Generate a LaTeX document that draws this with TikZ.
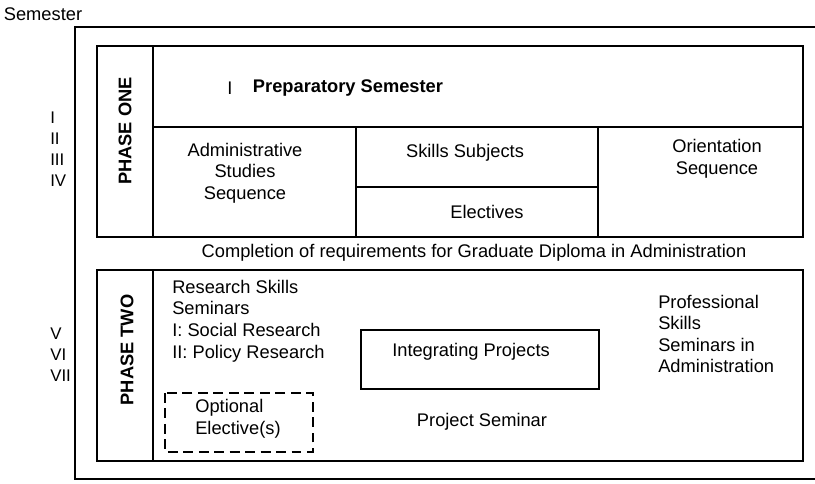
\documentclass[tikz,border=0pt]{standalone}
\usepackage{fontspec}
\setmainfont{Liberation Sans}
\tikzset{
  frame/.style={line width=1.2pt},
  txt/.style={font=\fontsize{13}{15.3}\selectfont, inner sep=0pt},
  lefttxt/.style={txt, align=left, anchor=west},
  midtxt/.style={txt, align=center},
  numtxt/.style={font=\fontsize{12}{15}\selectfont, inner sep=0pt, align=left, anchor=west},
  phase/.style={font=\fontsize{13}{15}\selectfont\bfseries, rotate=90, inner sep=0pt},
}
\begin{document}
\begin{tikzpicture}[x=0.025cm,y=-0.025cm]
  \useasboundingbox (0,0) rectangle (815,483);

  % Outer frame
  \draw[frame] (815,27) -- (75,27) -- (75,479) -- (815,479);
  \node[txt] (semester) at (43,14) {Semester};
  \node[numtxt] (numone) at (50,149) {I\\II\\III\\IV};
  \node[numtxt] (numtwo) at (50,355) {V\\VI\\VII};

  % Phase one
  \draw[frame] (97,46) rectangle (803,237);
  \draw[frame] (153,46) -- (153,237);
  \draw[frame] (153,127) -- (803,127);
  \draw[frame] (356,127) -- (356,237);
  \draw[frame] (598,127) -- (598,237);
  \draw[frame] (356,187) -- (598,187);
  \node[phase] (phaseone) at (125,131) {PHASE ONE};
  \node[txt] (romanone) at (230,88) {I};
  \node[txt, font=\fontsize{13}{15.3}\selectfont\bfseries] (prep) at (348,88) {Preparatory Semester};
  \node[midtxt] (admin) at (245,173) {Administrative\\Studies\\Sequence};
  \node[midtxt] (skills) at (465,153) {Skills Subjects};
  \node[midtxt] (electives) at (487,212) {Electives};
  \node[midtxt] (orient) at (717,159) {Orientation\\Sequence};

  % Completion
  \node[txt] (completion) at (474,253) {Completion of requirements for Graduate Diploma in Administration};

  % Phase two
  \draw[frame] (97,270) rectangle (803,461);
  \draw[frame] (153,270) -- (153,461);
  \node[phase] (phasetwo) at (127,350) {PHASE TWO};
  \node[lefttxt] (research) at (172,321) {Research Skills\\Seminars\\I: Social Research\\II: Policy Research};
  \draw[frame] (361,330) rectangle (599,389);
  \node[midtxt] (integrating) at (471,352) {Integrating Projects};
  \node[midtxt] (seminar) at (482,422) {Project Seminar};
  \node[lefttxt] (professional) at (658,334) {Professional\\Skills\\Seminars in\\Administration};
  \draw[line width=1pt, dash pattern=on 7pt off 4pt] (165,393) rectangle (313,452);
  \node[lefttxt] (optional) at (195,419) {Optional\\Elective(s)};
\end{tikzpicture}
\end{document}
